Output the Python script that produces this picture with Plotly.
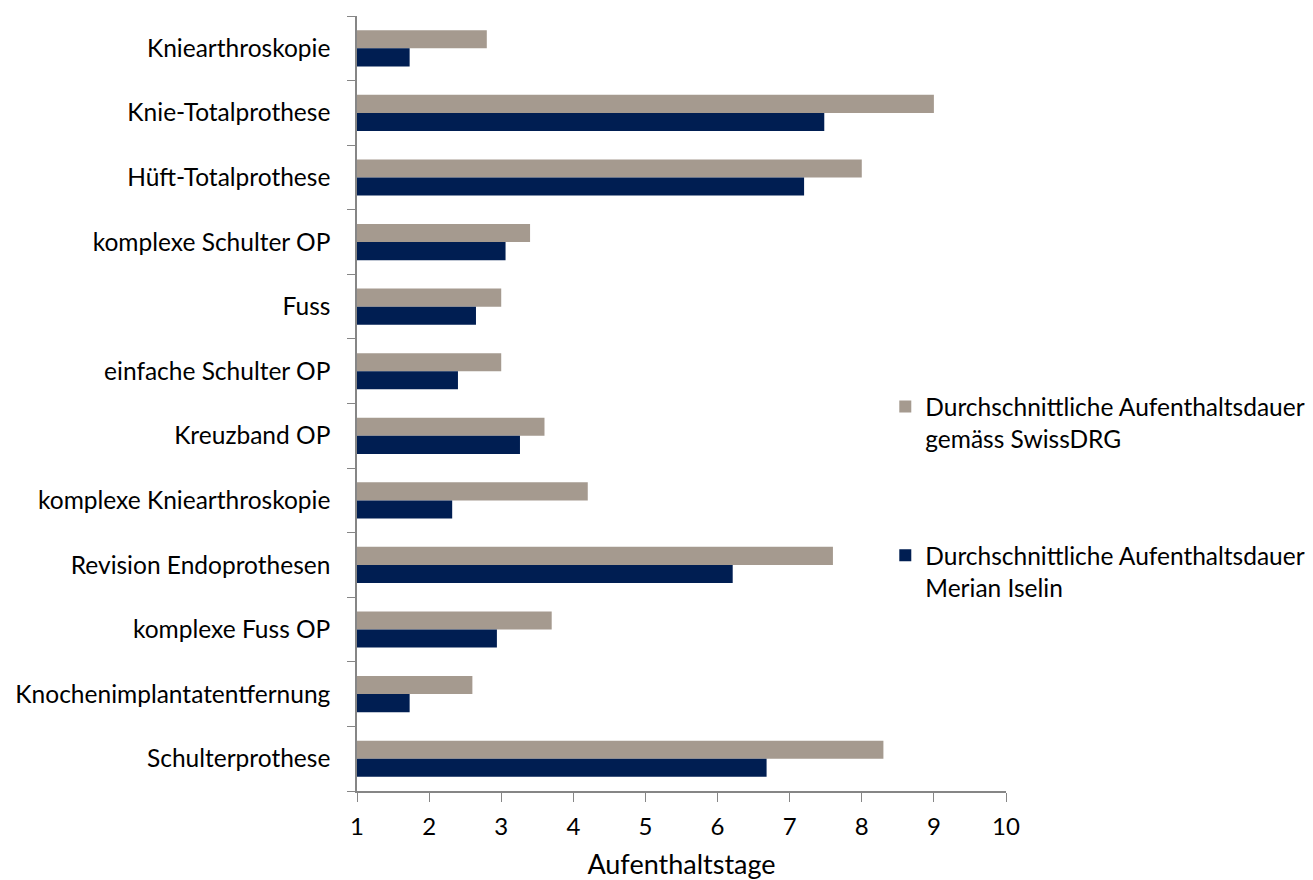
import plotly.graph_objects as go

categories = ["Kniearthroskopie", "Knie-Totalprothese", "Hüft-Totalprothese",
              "komplexe Schulter OP", "Fuss", "einfache Schulter OP", "Kreuzband OP",
              "komplexe Kniearthroskopie", "Revision Endoprothesen", "komplexe Fuss OP",
              "Knochenimplantatentfernung", "Schulterprothese"]
swissdrg = [2.8, 9.0, 8.0, 3.4, 3.0, 3.0, 3.6, 4.2, 7.6, 3.7, 2.6, 8.3]
merian = [1.73, 7.48, 7.2, 3.06, 2.65, 2.4, 3.26, 2.32, 6.21, 2.94, 1.73, 6.68]
name_swissdrg = "Durchschnittliche Aufenthaltsdauer<br>gemäss SwissDRG"
name_merian = "Durchschnittliche Aufenthaltsdauer<br>Merian Iselin"
xticks = [1, 2, 3, 4, 5, 6, 7, 8, 9, 10]

FONT = "Lato"
AX = "#868686"

fig = go.Figure()
fig.add_trace(go.Bar(y=categories, x=[v - 1 for v in swissdrg], base=1, orientation="h",
                     name=name_swissdrg, marker=dict(color="#A59A8F", line=dict(width=0)),
                     legendgroup="a"))
fig.add_trace(go.Bar(y=categories, x=[v - 1 for v in merian], base=1, orientation="h",
                     name=name_merian, marker=dict(color="#001E52", line=dict(width=0)),
                     legendgroup="b"))

fig.update_layout(
    width=1313, height=872,
    margin=dict(l=349, r=315, t=8, b=89),
    paper_bgcolor="white", plot_bgcolor="white",
    barmode="group", bargap=0.44, bargroupgap=0,
    font=dict(family=FONT, size=24.5, color="black"),
    legend=dict(x=0.814, y=0.525, xanchor="left", yanchor="top",
                valign="top", tracegroupgap=82, font=dict(size=24.5, family=FONT),
                bgcolor="rgba(0,0,0,0)"),
    xaxis=dict(range=[1, 10], tickvals=xticks, ticks="outside", ticklen=9,
               tickcolor=AX, showline=True, linecolor=AX, linewidth=1.5,
               showgrid=False, zeroline=False, tickfont=dict(size=24),
               ticklabelstandoff=4, automargin=False,
               title=dict(text="Aufenthaltstage", font=dict(size=27), standoff=21)),
    yaxis=dict(autorange="reversed", showline=True, linecolor=AX, linewidth=1.5,
               showgrid=False, ticks="", tickfont=dict(size=24.5), ticklabelstandoff=20,
               automargin=False, categoryorder="array", categoryarray=categories),
)

# category boundary tick marks on the y axis (drawn via minor ticks)
fig.update_yaxes(minor=dict(ticks="outside", ticklen=8, tickcolor=AX, showgrid=False,
                            tickvals=[i - 0.5 for i in range(len(categories) + 1)]))

fig.write_html("out.html")
